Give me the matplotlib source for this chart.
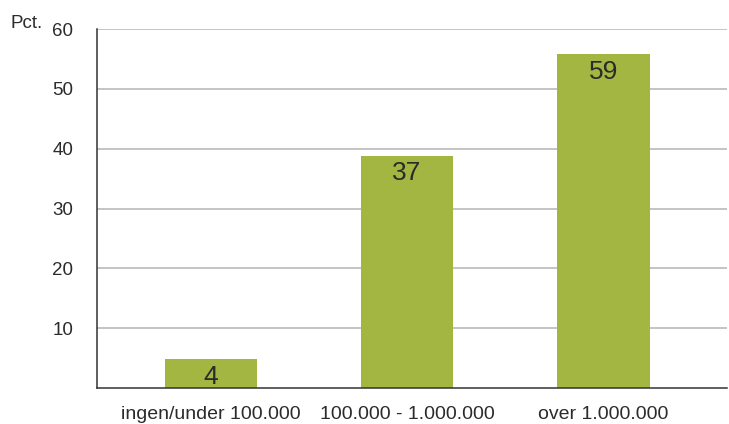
"""
Bar chart: share (pct.) by amount category.
"""
import matplotlib
matplotlib.use('Agg')
import matplotlib.pyplot as plt

plt.rcParams['font.family'] = ['Liberation Sans', 'DejaVu Sans']

# data
CATEGORIES = ['ingen/under 100.000', '100.000 - 1.000.000', 'over 1.000.000']
BAR_HEIGHTS = [4.85, 38.8, 55.8]   # drawn bar heights
BAR_LABELS = [4, 37, 59]           # printed values
YTICKS = [10, 20, 30, 40, 50, 60]

BAR_COLOR = '#a3b642'
GRID_COLOR = '#b4b4b4'
TEXT_COLOR = '#2b2b2b'
AXIS_COLOR = '#333333'

fig = plt.figure(figsize=(7.29, 4.24), dpi=100)
ax = fig.add_axes([0.1331, 0.0849, 0.8642, 0.8467])

xvals = range(len(CATEGORIES))
ax.bar(xvals, BAR_HEIGHTS, width=0.47, color=BAR_COLOR, zorder=3)

# value labels just inside the bar tops
for x, h, lab in zip(xvals, BAR_HEIGHTS, BAR_LABELS):
    ax.annotate(str(lab), (x, h), xytext=(0, -4), textcoords='offset points',
                ha='center', va='top', fontsize=19, color=TEXT_COLOR, zorder=4)

# aesthetics
ax.set_xlim(-0.58, 2.63)
ax.set_ylim(0, 60)
ax.set_yticks(YTICKS)
ax.set_xticks(list(xvals))
ax.set_xticklabels(CATEGORIES)
ax.tick_params(axis='both', length=0, labelcolor=TEXT_COLOR)
ax.tick_params(axis='y', pad=17, labelsize=13.5)
ax.tick_params(axis='x', pad=13, labelsize=14)
ax.grid(True, axis='y', color=GRID_COLOR, linewidth=1.1, zorder=0)
ax.spines['top'].set_visible(False)
ax.spines['right'].set_visible(False)
for side in ['left', 'bottom']:
    ax.spines[side].set_color(AXIS_COLOR)
    ax.spines[side].set_linewidth(1.1)
    ax.spines[side].set_zorder(5)

fig.text(10 / 729, 1 - 28 / 424, 'Pct.', fontsize=13.5, color=TEXT_COLOR,
         ha='left', va='baseline')

fig.savefig('out.png', dpi=100)
plt.close(fig)
